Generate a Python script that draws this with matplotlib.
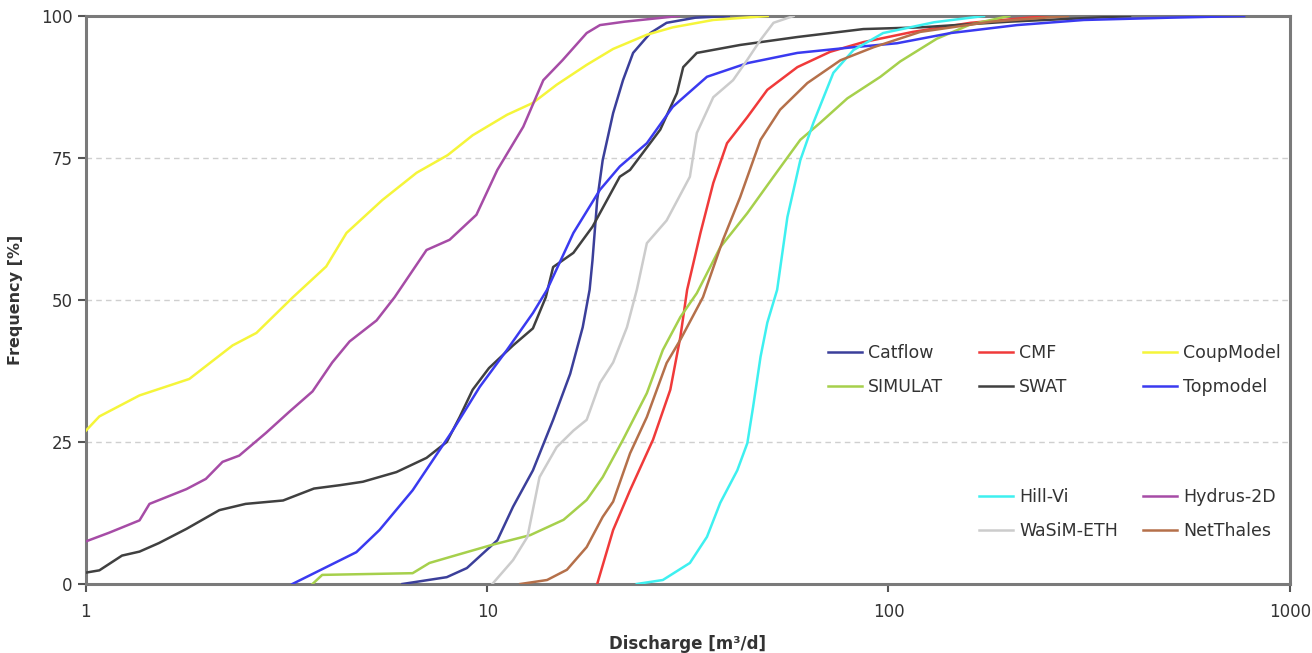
import matplotlib
matplotlib.use("Agg")
import matplotlib.pyplot as plt

plt.rcParams['font.family'] = ['DejaVu Sans']

# ---- data ----
catflow_x = [6.15, 7.93, 8.9, 10.6, 11.6, 13.0, 14.6, 16.1, 17.3, 18.0, 18.3, 18.8, 19.4, 20.6, 21.8, 23.1, 25.5, 28.0, 33, 40]
catflow_y = [0, 1.2, 2.8, 7.7, 13.6, 20, 28.9, 37, 45.2, 51.8, 57, 67.6, 74.6, 82.9, 88.7, 93.5, 97, 98.8, 99.7, 100]

cmf_x = [18.8, 20.6, 22.7, 25.9, 28.6, 30.3, 31.5, 34, 36.6, 39.6, 44.5, 49.9, 59.3, 71.6, 86.6, 115, 160, 250]
cmf_y = [0, 9.5, 16.5, 25.4, 34.2, 43.5, 51.8, 61.8, 70.6, 77.6, 82.2, 87, 91, 93.7, 95.4, 97.2, 98.8, 100]

coup_x = [1, 1.08, 1.36, 1.81, 2.32, 2.66, 3.27, 3.97, 4.46, 5.48, 6.67, 7.97, 9.2, 11.2, 13, 14.9, 17.7, 20.6, 25, 29, 36.6, 50]
coup_y = [27, 29.5, 33.2, 36.1, 42, 44.2, 50.4, 55.9, 61.8, 67.6, 72.4, 75.5, 79, 82.6, 84.7, 87.9, 91.4, 94.2, 96.7, 98, 99.3, 100]

simulat_x = [3.67, 3.88, 6.52, 7.18, 8.4, 10.3, 12.8, 15.5, 17.7, 19.4, 21.8, 25, 27.4, 30.3, 33.3, 38.1, 44.5, 51.7, 60.3, 67.6, 79, 95.5, 107, 132, 160, 200]
simulat_y = [0, 1.6, 1.9, 3.7, 5.1, 6.9, 8.6, 11.3, 14.8, 18.8, 25.4, 33.6, 41.2, 47, 51.2, 59.3, 65.3, 71.7, 78.2, 81.2, 85.5, 89.3, 92, 96, 98.5, 100]

swat_x = [1, 1.08, 1.23, 1.36, 1.52, 1.78, 2.15, 2.5, 3.1, 3.7, 4.3, 4.9, 5.94, 7.06, 7.93, 8.54, 9.2, 10.1, 11.6, 13, 14, 14.6, 16.4, 18.3, 21.4, 22.7, 27, 29.7, 30.8, 33.3, 42.7, 59.3, 86.6, 120, 200, 400]
swat_y = [2, 2.4, 5, 5.7, 7.2, 9.7, 13, 14.1, 14.7, 16.8, 17.4, 18, 19.7, 22.2, 25, 29.4, 34.2, 38, 42, 45, 50.5, 55.8, 58.3, 62.9, 71.7, 72.9, 80, 86.4, 91, 93.5, 94.9, 96.3, 97.7, 98, 99, 100]

top_x = [3.27, 4.72, 5.39, 6.52, 8.2, 9.58, 11.2, 13, 14.1, 16.4, 19.1, 21.4, 25, 29, 35.3, 44.5, 59.3, 79, 105, 143, 209, 307, 500, 770]
top_y = [0, 5.6, 9.5, 16.5, 27, 34.7, 41.2, 47.7, 51.8, 61.8, 69.4, 73.5, 77.6, 84, 89.3, 91.7, 93.5, 94.4, 95.2, 97, 98.4, 99.3, 99.7, 100]

hillvi_x = [23.6, 27.4, 32, 35.3, 38.1, 42, 44.5, 46, 48, 49.9, 52.8, 56, 60.3, 65, 72.9, 81.8, 97, 130, 173]
hillvi_y = [0, 0.7, 3.7, 8.3, 14.3, 20, 24.8, 31.2, 40, 46, 51.8, 64.6, 74.6, 81.2, 90, 94, 97, 98.9, 100]

hydrus_x = [1, 1.14, 1.36, 1.44, 1.78, 1.99, 2.19, 2.41, 2.81, 3.21, 3.67, 4.11, 4.54, 5.3, 5.88, 7.06, 8.06, 9.4, 10.6, 12.3, 13.8, 15.4, 17.7, 19.1, 22, 30]
hydrus_y = [7.5, 9, 11.2, 14.1, 16.7, 18.5, 21.5, 22.6, 26.6, 30.3, 33.9, 39, 42.7, 46.4, 50.5, 58.8, 60.6, 65, 72.9, 80.5, 88.7, 92.2, 97, 98.4, 99, 100]

wasim_x = [10.3, 11.6, 12.6, 13.5, 14.9, 16.4, 17.7, 19.1, 20.6, 22.3, 23.6, 25, 28, 32, 33.3, 36.6, 41, 44.5, 48, 51.7, 58]
wasim_y = [0, 4.2, 8.3, 18.8, 24.1, 27, 28.9, 35.4, 39, 45.2, 51.8, 60, 64, 71.7, 79.4, 85.7, 88.7, 92.3, 95.8, 98.8, 100]

net_x = [12.1, 14.1, 15.8, 17.7, 19.4, 20.6, 22.7, 25, 28, 30.3, 34.5, 38.7, 42.7, 48, 53.7, 62.8, 75.9, 91.8, 120, 180, 280]
net_y = [0, 0.7, 2.5, 6.5, 11.8, 14.5, 23, 29.4, 38.9, 43, 50.5, 60.6, 68.1, 78.2, 83.5, 88.2, 92.2, 94.5, 97.2, 99, 100]

x_ticks = [1, 10, 100, 1000]
x_tick_labels = ["1", "10", "100", "1000"]
y_ticks = [0, 25, 50, 75, 100]
y_tick_labels = ["0", "25", "50", "75", "100"]

fig = plt.figure(figsize=(13.12, 6.53), dpi=100)
ax = fig.add_axes([0.0655, 0.1057, 0.9175, 0.8698])

series = [
    ("Catflow", catflow_x, catflow_y, "#3b3f9a"),
    ("CMF", cmf_x, cmf_y, "#f03a3a"),
    ("CoupModel", coup_x, coup_y, "#f5f53a"),
    ("SIMULAT", simulat_x, simulat_y, "#a6d04c"),
    ("SWAT", swat_x, swat_y, "#404040"),
    ("Topmodel", top_x, top_y, "#3a3af0"),
    ("Hill-Vi", hillvi_x, hillvi_y, "#3ef0f0"),
    ("Hydrus-2D", hydrus_x, hydrus_y, "#a64ca6"),
    ("WaSiM-ETH", wasim_x, wasim_y, "#cccccc"),
    ("NetThales", net_x, net_y, "#b5704a"),
]
lines = {}
for name, xs, ys, c in series:
    ln, = ax.plot(xs, ys, color=c, lw=1.8, label=name, zorder=3)
    lines[name] = ln

ax.set_xscale('log')
ax.set_xlim(1, 1000)
ax.set_ylim(0, 100)
ax.set_xticks(x_ticks)
ax.set_xticklabels(x_tick_labels)
ax.xaxis.set_minor_locator(matplotlib.ticker.NullLocator())
ax.set_yticks(y_ticks)
ax.set_yticklabels(y_tick_labels)
ax.tick_params(axis='both', labelsize=12, colors='#555555', labelcolor='#333333',
               length=6, width=1.5, direction='out')
ax.tick_params(axis='x', pad=8)
for s in ax.spines.values():
    s.set_color('#7a7a7a')
    s.set_linewidth(2.2)

for yv in [25, 50, 75]:
    ax.axhline(yv, color='#cfcfcf', lw=1.0, ls=(0, (4, 3)), zorder=1)

ax.set_xlabel("Discharge [m³/d]", fontsize=12, fontweight='bold', color='#333333', labelpad=10)
ax.set_ylabel("Frequency [%]", fontsize=11.5, fontweight='bold', color='#333333')
ax.yaxis.set_label_coords(-0.052, 0.5)

# legend columns (positioned as in the reference)
cols = [
    (["Catflow", "SIMULAT"], 828, 370),
    (["CMF", "SWAT"], 979, 370),
    (["CoupModel", "Topmodel"], 1143, 370),
    (["Hill-Vi", "WaSiM-ETH"], 979, 514),
    (["Hydrus-2D", "NetThales"], 1143, 514),
]
W, H = 1312.0, 653.0
for names, px, py in cols:
    leg = fig.legend([lines[n] for n in names], names, loc='center left',
                     bbox_to_anchor=(px / W, 1 - py / H), bbox_transform=fig.transFigure,
                     frameon=False, fontsize=12.5, handlelength=1.95, handletextpad=0.35,
                     labelspacing=0.95, borderpad=0, borderaxespad=0)
    for t in leg.get_texts():
        t.set_color('#333333')

fig.savefig("out.png", dpi=100, facecolor='white')
